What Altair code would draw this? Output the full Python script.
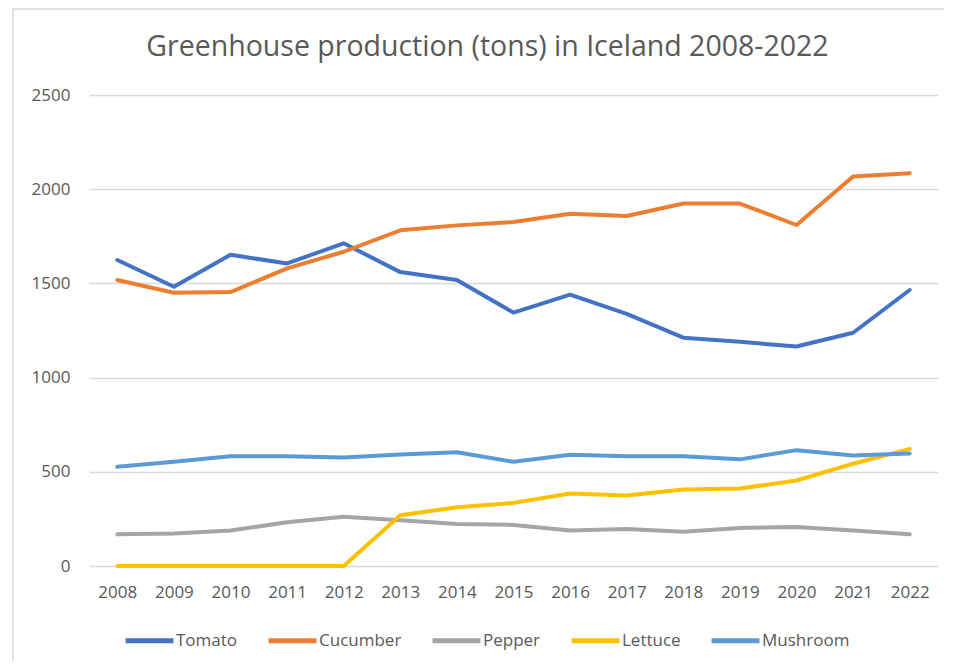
import altair as alt
import pandas as pd

years = list(range(2008, 2023))
series = ["Tomato", "Cucumber", "Pepper", "Lettuce", "Mushroom"]
colors = ["#4472C4", "#ED7D31", "#A5A5A5", "#FFC000", "#5B9BD5"]

tomato = [1624, 1482, 1652, 1606, 1713, 1560, 1518, 1345, 1440, 1338, 1212, 1190, 1165, 1238, 1465]
cucumber = [1518, 1450, 1454, 1580, 1668, 1782, 1808, 1826, 1870, 1858, 1924, 1924, 1810, 2067, 2085]
pepper = [168, 173, 188, 232, 262, 243, 223, 218, 188, 197, 182, 202, 207, 188, 168]
lettuce = [0, 0, 0, 0, 0, 269, 312, 335, 385, 374, 406, 411, 454, 543, 622]
mushroom = [527, 553, 583, 583, 576, 592, 604, 553, 590, 583, 583, 566, 615, 587, 597]

values = {"Tomato": tomato, "Cucumber": cucumber, "Pepper": pepper,
          "Lettuce": lettuce, "Mushroom": mushroom}

rows = []
for i, s in enumerate(series):
    for y, v in zip(years, values[s]):
        rows.append({"year": str(y), "value": v, "series": s, "order": i})
df = pd.DataFrame(rows)

FONT = "Open Sans"
GREY = "#595959"

lines = alt.Chart(df).mark_line(strokeWidth=4, strokeCap="round", strokeJoin="round").encode(
    x=alt.X("year:O", title=None,
            scale=alt.Scale(type="point", padding=0.5),
            axis=alt.Axis(labelAngle=0, ticks=False, domain=False, grid=False,
                          labelFont=FONT, labelFontSize=17, labelColor=GREY,
                          labelPadding=18)),
    y=alt.Y("value:Q", title=None,
            scale=alt.Scale(domain=[0, 2500]),
            axis=alt.Axis(values=[0, 500, 1000, 1500, 2000, 2500], format="d",
                          ticks=False, domain=False,
                          grid=True, gridColor="#d9d9d9", gridWidth=1.3,
                          labelFont=FONT, labelFontSize=17, labelColor=GREY,
                          labelPadding=19)),
    color=alt.Color("series:N",
                    scale=alt.Scale(domain=series, range=colors),
                    sort=series,
                    legend=alt.Legend(title=None, orient="none", direction="horizontal",
                                      columns=5, legendX=34, legendY=519,
                                      symbolType="stroke", symbolSize=2300,
                                      symbolStrokeWidth=5, labelFont=FONT,
                                      labelFontSize=17, labelColor=GREY,
                                      labelOffset=0, columnPadding=20, padding=0)),
    order=alt.Order("order:Q"),
)

border = alt.Chart(pd.DataFrame({"a": [0]})).mark_rect(
    fill="transparent", stroke="#d9d9d9", strokeWidth=1.5
).encode(
    x=alt.value(-76), x2=alt.value(900), y=alt.value(-86), y2=alt.value(600)
)

chart = alt.layer(border, lines).properties(
    width=849, height=471,
    title=alt.TitleParams("Greenhouse production (tons) in Iceland 2008-2022",
                          font=FONT, fontSize=28.5, fontWeight="normal", color=GREY,
                          anchor="middle", frame="group", dx=-26, offset=-53),
    padding={"left": 81, "top": 87, "right": 6, "bottom": 95},
    autosize=alt.AutoSizeParams(type="none"),
).configure_view(stroke=None)

chart.save("out.html", embed_options={"renderer": "svg", "actions": False})
